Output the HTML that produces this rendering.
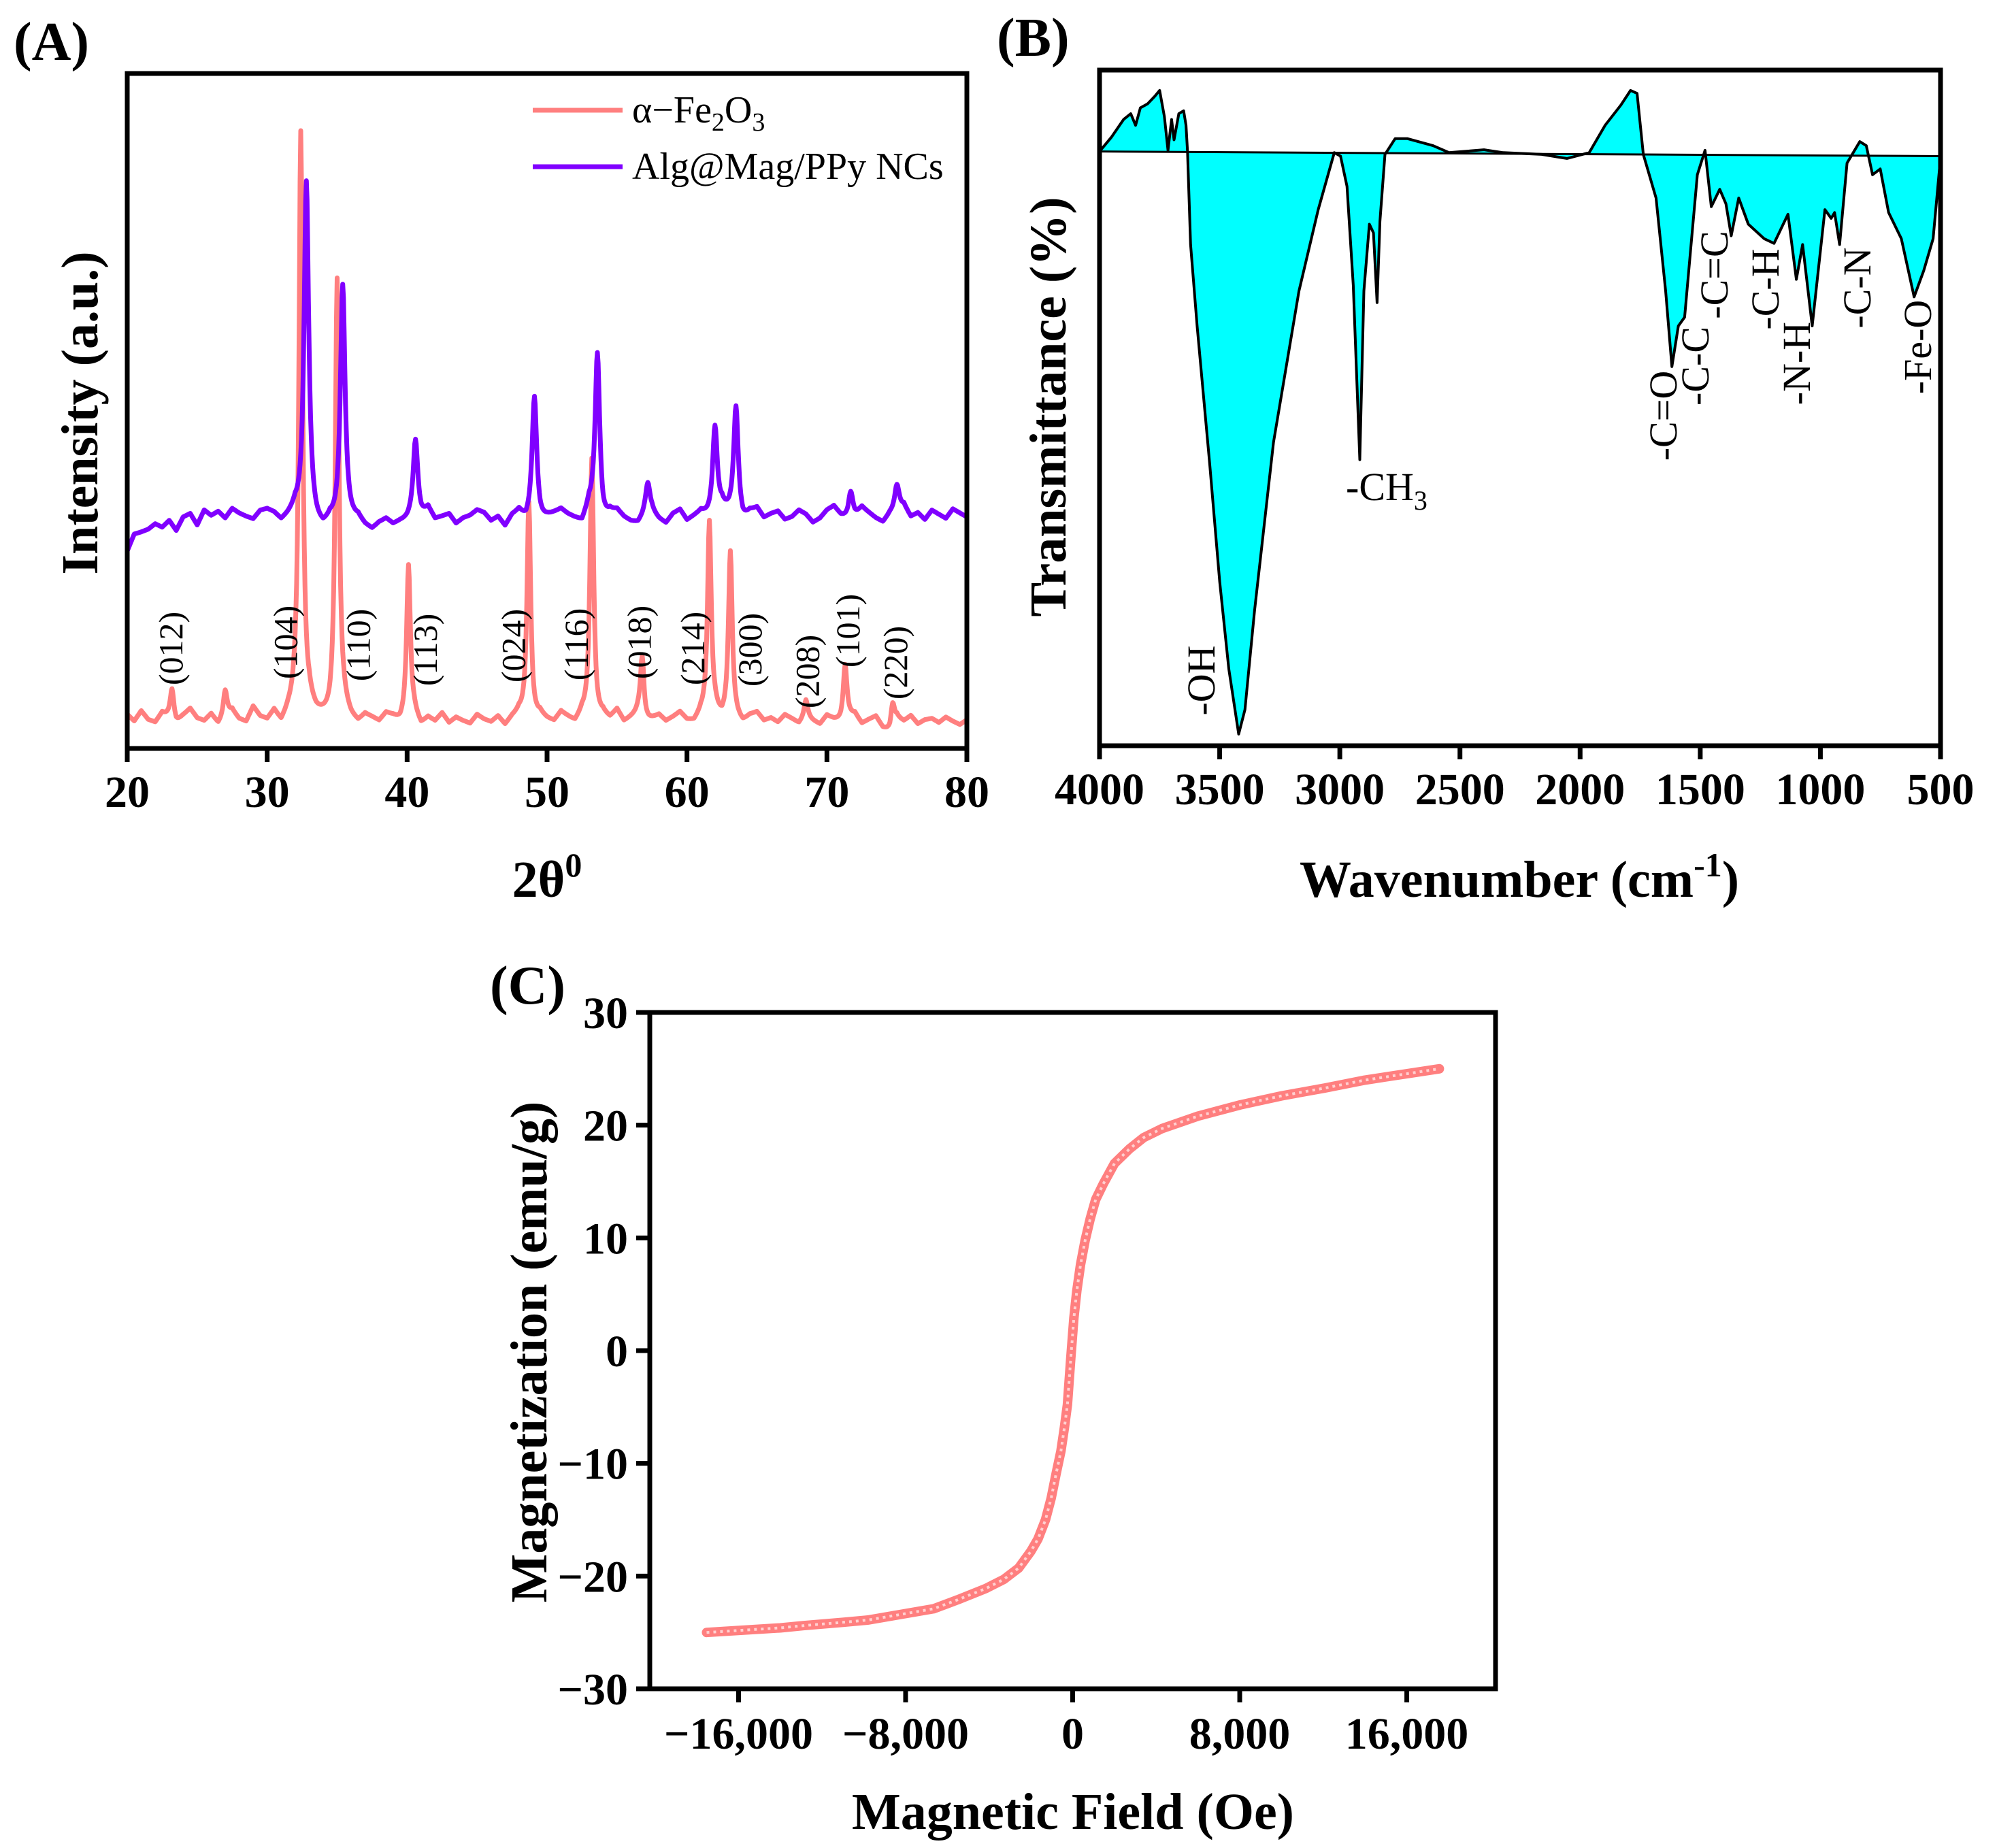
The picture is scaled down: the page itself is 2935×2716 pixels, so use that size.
<!DOCTYPE html>
<html><head><meta charset="utf-8"><style>
html,body{margin:0;padding:0;background:#fff;}
svg{display:block;font-family:"Liberation Serif",serif;}
.tk{font-weight:bold;font-size:66px;}
.tt{font-weight:bold;font-size:76px;}
.pl{font-weight:bold;font-size:80px;}
</style></head><body>
<svg id="fig" width="2935" height="2716" viewBox="0 0 2935 2716" xmlns="http://www.w3.org/2000/svg">
<text class="pl" x="20" y="88">(A)</text>
<text class="pl" x="1465" y="82">(B)</text>
<text class="pl" x="720" y="1475">(C)</text>
<g id="pa"></g>
<g id="pb"></g>
<g id="pc"></g>
</svg>
<script>
// ---------- Panel A data ----------
const xrdTicks = [20,30,40,50,60,70,80];
const bgPink = [50,40,55,42,38,52,45,36,48,58,44,40,50,35,47,55,42,38,60,45,
40,52,33,46,50,38,55,44,41,36,48,52,40,35,47,43,38,50,45,36,
42,48,33,44,39,51,37,45,40,36,49,42,38,46,33,44,50,39,35,47,
41,38,52,44,36,48,40,35,46,42,55,38,44,50,36,42,48,39,45,52,
40,37,48,43,50,38,45,41,36,47,52,40,44,38,49,43,36,46,40,35,
48,42,38,45,50,36,42,47,30,25,45,40,48,36,42,44,38,46,40,35,42];
const bgPurple = [290,315,318,322,330,325,335,320,340,345,328,350,342,348,338,352,345,340,336,348,
350,344,332,338,346,328,335,322,318,330,324,328,330,335,325,320,330,336,328,332,
334,340,338,352,336,340,344,330,338,342,350,346,334,340,326,342,348,332,336,330,
338,344,350,342,336,330,352,340,326,344,348,338,332,330,342,346,336,330,344,350,
334,340,346,338,332,350,342,336,330,346,352,338,344,348,336,340,350,344,332,338,
350,356,342,336,340,354,346,338,332,344,348,356,340,346,336,350,344,338,352,346,340];
const pinkPeakPos = [23.2,27.0,32.4,35.0,40.1,48.7,53.2,56.8,61.6,63.1,68.5,71.3,74.7];
const pinkPeakH =   [46,38,865,640,226,324,388,93,288,243,25,81,34];
const purplePeakPos = [32.8,35.4,40.6,49.1,53.6,57.2,62.0,63.5,71.7,75.0];
const purplePeakH =   [500,352,114,182,244,46,140,165,40,40];
const millerLabels = ["(012)","(104)","(110)","(113)","(024)","(116)","(018)","(214)","(300)","(208)","(101)","(220)"];
const millerPos = [23.1,31.3,36.5,41.3,47.6,52.1,56.6,60.4,64.5,68.6,71.5,74.9];
const millerY = [953,944,948,955,949,947,944,953,955,987,927,974];

// ---------- Panel B data ----------
const wn = [4000,3950,3900,3870,3850,3830,3800,3770,3750,3730,3715,3700,3690,3670,3650,3640,3634,3621,3594,3541,3500,3462,3421,3395,3355,3276,3170,3090,3023,2997,2970,2944,2917,2900,2877,2860,2845,2833,2812,2770,2718,2612,2545,2400,2320,2160,2055,1962,1896,1830,1790,1763,1737,1684,1644,1618,1591,1565,1538,1512,1480,1454,1419,1393,1371,1340,1300,1234,1193,1135,1100,1074,1034,981,955,941,920,889,836,809,783,751,716,663,610,570,531,500];
const trans = [1022,1047,1077,1087,1067,1097,1104,1117,1127,1082,1024,1077,1042,1087,1092,1067,1022,862,722,482,282,132,20,62,232,522,782,922,1020,1014,962,792,492,782,897,882,762,902,1017,1044,1044,1032,1020,1025,1020,1017,1010,1020,1067,1102,1127,1122,1017,942,782,652,722,737,862,982,1024,927,957,932,877,942,897,872,864,914,802,862,722,922,907,917,862,1002,1039,1032,982,992,917,872,772,817,872,1012];
const baseT = [1022,1014];
const wnTicks = [4000,3500,3000,2500,2000,1500,1000,500];
const bandLabels = ["-OH","-C=O","-C-C","-C=C","-C-H","-N-H","-C-N","-Fe-O"];
const bandWn = [3578,1655,1522,1443,1231,1100,848,596];
const bandY = [1000,611,538,404,425,534,423,510];

// ---------- Panel C data ----------
const field = [-17530,-14000,-12900,-11000,-9780,-6660,-5500,-4160,-3300,-2590,-2000,-1660,-1300,-1030,-800,-560,-400,-250,-90,60,200,375,600,840,1100,1470,2000,2720,3400,4280,6000,8030,10000,12090,14000,17560];
const magn  = [-25.0,-24.6,-24.4,-24.1,-23.9,-22.9,-22.1,-21.1,-20.3,-19.3,-17.8,-16.7,-15.0,-13.1,-11.0,-8.9,-6.9,-4.8,-0.7,2.9,5.3,7.6,9.8,11.7,13.4,14.8,16.6,17.9,18.9,19.7,20.8,21.8,22.6,23.3,24.0,25.0];
const mTicks = [30,20,10,0,-10,-20,-30];
const hTicks = [-16000,-8000,0,8000,16000];

const NS="http://www.w3.org/2000/svg";
function mk(parent,tag,attrs){const e=document.createElementNS(NS,tag);for(const k in attrs)e.setAttribute(k,attrs[k]);parent.appendChild(e);return e;}
function fmt(v){const s=Math.abs(v).toLocaleString('en-US');return (v<0?'\u2212':'')+s;}

// ===== Panel A =====
(function(){
const g=document.getElementById('pa');
const L=187,R=1421,T=108,B=1100;
const xs=v=>L+(v-20)/60*(R-L);
const ys=v=>B-v;
function series(bg,pos,h,w){
  const pts=[];
  for(let i=0;i<=1200;i++){const x=20+i*0.05;
    const k=Math.min(119,Math.floor((x-20)/0.5));const f=(x-20)/0.5-k;
    let y=bg[k]*(1-f)+bg[k+1]*f;
    for(let j=0;j<pos.length;j++){const d=(x-pos[j])/w;y+=h[j]/(1+d*d);}
    pts.push(xs(x).toFixed(1)+','+ys(y).toFixed(1));}
  return pts.join(' ');
}
let p=mk(g,'polyline',{points:series(bgPink,pinkPeakPos,pinkPeakH,0.16),fill:'none',stroke:'#ff7f7f','stroke-width':7,'stroke-linejoin':'round'});


p=mk(g,'polyline',{points:series(bgPurple,purplePeakPos,purplePeakH,0.2),fill:'none',stroke:'#8000ff','stroke-width':7,'stroke-linejoin':'round'});


millerLabels.forEach((t,i)=>{const x=xs(millerPos[i]);
  const e=mk(g,'text',{x:0,y:0,transform:`translate(${x+17},${millerY[i]}) rotate(-90)`,'text-anchor':'middle','font-size':50});e.textContent=t;
  
  });
let r=mk(g,'rect',{x:L,y:T,width:R-L,height:B-T,fill:'none',stroke:'#000','stroke-width':7});


xrdTicks.forEach(v=>{const x=xs(v);mk(g,'line',{x1:x,y1:B,x2:x,y2:B+20,stroke:'#000','stroke-width':7});
  const e=mk(g,'text',{x:x,y:B+86,'text-anchor':'middle',class:'tk'});e.textContent=v;
  
  });
let t=mk(g,'text',{x:(L+R)/2,y:1318,'text-anchor':'middle',class:'tt'});t.innerHTML='2θ<tspan font-size="50" dy="-30">0</tspan>';


t=mk(g,'text',{x:0,y:0,transform:'translate(143,607) rotate(-90)','text-anchor':'middle',class:'tt'});t.textContent='Intensity (a.u.)';


const lg=mk(g,'g',{});


mk(lg,'line',{x1:783,y1:162,x2:915,y2:162,stroke:'#ff7f7f','stroke-width':7});
mk(lg,'line',{x1:783,y1:245,x2:915,y2:245,stroke:'#8000ff','stroke-width':7});
t=mk(lg,'text',{x:929,y:180,'font-size':56});t.innerHTML='α−Fe<tspan font-size="38" dy="12">2</tspan><tspan dy="-12">O</tspan><tspan font-size="38" dy="12">3</tspan>';


t=mk(lg,'text',{x:929,y:263,'font-size':56});t.textContent='Alg@Mag/PPy NCs';


})();

// ===== Panel B =====
(function(){
const g=document.getElementById('pb');
const L=1616,R=2852,T=103,B=1096;
const xs=v=>L+(4000-v)/3500*(R-L);
const ys=v=>B-v*(B-T)/1162;
const curve=wn.map((w,i)=>xs(w).toFixed(1)+','+ys(trans[i]).toFixed(1));
const poly=curve.concat([xs(500)+','+ys(baseT[1]),xs(4000)+','+ys(baseT[0])]).join(' ');
let e=mk(g,'polygon',{points:poly,fill:'#00ffff',stroke:'none'});


e=mk(g,'line',{x1:xs(4000),y1:ys(baseT[0]),x2:xs(500),y2:ys(baseT[1]),stroke:'#000','stroke-width':3});


e=mk(g,'polyline',{points:curve.join(' '),fill:'none',stroke:'#000','stroke-width':4,'stroke-linejoin':'round'});


bandLabels.forEach((t,i)=>{const x=xs(bandWn[i]);
  const el=mk(g,'text',{x:0,y:0,transform:`translate(${x+20},${bandY[i]}) rotate(-90)`,'text-anchor':'middle','font-size':58});el.textContent=t;
  
  });
e=mk(g,'text',{x:1978,y:735,'font-size':58});e.innerHTML='-CH<tspan font-size="40" dy="14">3</tspan>';


e=mk(g,'rect',{x:L,y:T,width:R-L,height:B-T,fill:'none',stroke:'#000','stroke-width':7});


wnTicks.forEach(v=>{const x=xs(v);mk(g,'line',{x1:x,y1:B,x2:x,y2:B+20,stroke:'#000','stroke-width':7});
  const el=mk(g,'text',{x:x,y:B+86,'text-anchor':'middle',class:'tk'});el.textContent=v;
  
  });
e=mk(g,'text',{x:2233,y:1318,'text-anchor':'middle',class:'tt'});e.innerHTML='Wavenumber (cm<tspan font-size="50" dy="-30">-1</tspan><tspan dy="30">)</tspan>';


e=mk(g,'text',{x:0,y:0,transform:'translate(1566,598) rotate(-90)','text-anchor':'middle',class:'tt'});e.textContent='Transmittance (%)';


})();

// ===== Panel C =====
(function(){
const g=document.getElementById('pc');
const L=955,R=2198,T=1488,B=2482;
const xs=v=>L+(v+20250)/40500*(R-L);
const ys=v=>B-(v+30)/60*(B-T);
const pts=field.map((h,i)=>xs(h).toFixed(1)+','+ys(magn[i]).toFixed(1)).join(' ');
let e=mk(g,'polyline',{points:pts,fill:'none',stroke:'#ff7f7f','stroke-width':14,'stroke-linejoin':'round','stroke-linecap':'round'});


e=mk(g,'polyline',{points:pts,fill:'none',stroke:'#ffd0d0','stroke-width':4,'stroke-linejoin':'round','stroke-dasharray':'4 6'});


e=mk(g,'rect',{x:L,y:T,width:R-L,height:B-T,fill:'none',stroke:'#000','stroke-width':7});


mTicks.forEach(v=>{const y=ys(v);mk(g,'line',{x1:L-20,y1:y,x2:L,y2:y,stroke:'#000','stroke-width':7});
  const el=mk(g,'text',{x:L-32,y:y+23,'text-anchor':'end',class:'tk'});el.textContent=fmt(v);
  
  });
hTicks.forEach(v=>{const x=xs(v);mk(g,'line',{x1:x,y1:B,x2:x,y2:B+20,stroke:'#000','stroke-width':7});
  const el=mk(g,'text',{x:x,y:B+88,'text-anchor':'middle',class:'tk'});el.textContent=fmt(v);
  
  });
e=mk(g,'text',{x:1577,y:2688,'text-anchor':'middle',class:'tt'});e.textContent='Magnetic Field (Oe)';


e=mk(g,'text',{x:0,y:0,transform:'translate(803,1987) rotate(-90)','text-anchor':'middle',class:'tt'});e.textContent='Magnetization (emu/g)';


})();
</script>
</body></html>
